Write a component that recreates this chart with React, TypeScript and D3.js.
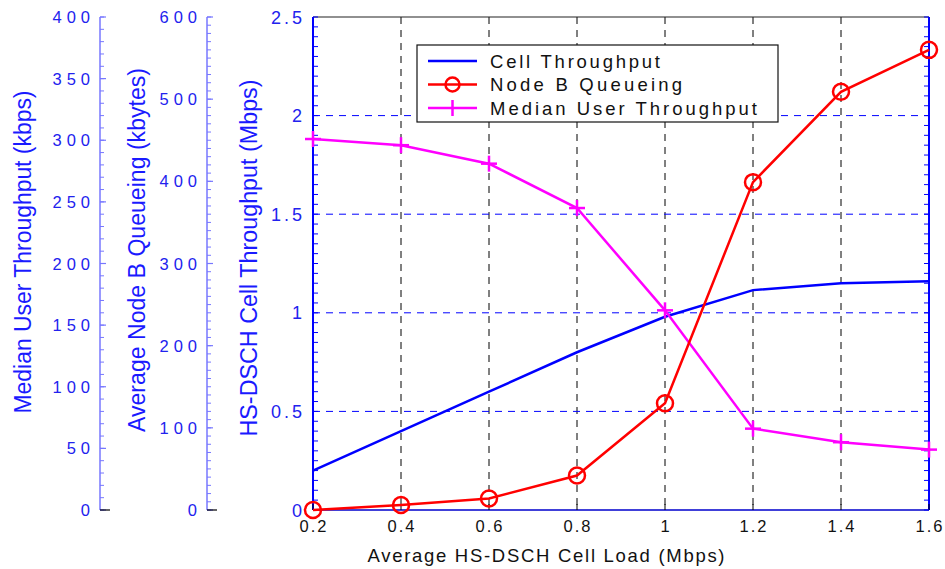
import React from "react";
import * as d3 from "d3";

const loads = [0.2, 0.4, 0.6, 0.8, 1.0, 1.2, 1.4, 1.6];
const cellThroughput = [0.2, 0.4, 0.6, 0.8, 0.98, 1.115, 1.15, 1.16]; // Mbps
const nodeBQueueing = [0, 6, 14, 42, 130, 399, 509, 560]; // kbytes
const medianUserThroughput = [301, 296, 281, 245, 162, 66, 55, 49]; // kbps

const xTicks = [0.2, 0.4, 0.6, 0.8, 1, 1.2, 1.4, 1.6];
const mainTicks = [0, 0.5, 1, 1.5, 2, 2.5];
const queueTicks = [0, 100, 200, 300, 400, 500, 600];
const userTicks = [0, 50, 100, 150, 200, 250, 300, 350, 400];

const legendItems = [
  { name: "Cell Throughput", color: "#0000ff", marker: "none", len: 170 },
  { name: "Node B Queueing", color: "#ff0000", marker: "circle", len: 192 },
  { name: "Median User Throughput", color: "#ff00ff", marker: "plus", len: 267 },
];

const FONT = "Arial, 'Liberation Sans', sans-serif";

export default function App() {
  const left = 313, right = 929, top = 17, bottom = 510;
  const x = d3.scaleLinear().domain([0.2, 1.6]).range([left, right]);
  const yMain = d3.scaleLinear().domain([0, 2.5]).range([bottom, top]);
  const yQueue = d3.scaleLinear().domain([0, 600]).range([bottom, top]);
  const yUser = d3.scaleLinear().domain([0, 400]).range([bottom, top]);

  const cellLine = d3.line<number>().x((_, i) => x(loads[i])).y((d) => yMain(d))(cellThroughput) || "";
  const queueLine = d3.line<number>().x((_, i) => x(loads[i])).y((d) => yQueue(d))(nodeBQueueing) || "";
  const userLine = d3.line<number>().x((_, i) => x(loads[i])).y((d) => yUser(d))(medianUserThroughput) || "";

  const mainMinor = d3.range(0, 2.5001, 0.05);
  const userMinor = d3.range(0, 400.01, 10);
  const queueMinor = d3.range(0, 600.01, 10);

  const tickColor = "#2222ee";
  const axisLight = "#7777ff";

  const sideAxis = (
    ax: number,
    scale: d3.ScaleLinear<number, number>,
    ticks: number[],
    minor: number[],
    labelRight: number
  ) => (
    <g>
      <line x1={ax} x2={ax} y1={top} y2={bottom} stroke={axisLight} strokeWidth={1.5} />
      {minor.map((v, i) => (
        <line key={"m" + i} x1={ax} x2={ax + 4} y1={scale(v)} y2={scale(v)} stroke={axisLight} strokeWidth={1} />
      ))}
      {ticks.map((v, i) => (
        <line key={"t" + i} x1={ax} x2={ax + 6} y1={scale(v)} y2={scale(v)} stroke={axisLight} strokeWidth={1.2} />
      ))}
      <line x1={ax} x2={ax + 10} y1={bottom} y2={bottom} stroke="#000" strokeWidth={1.2} />
      {ticks.map((v, i) => (
        <text
          key={"l" + i}
          x={labelRight + 5}
          y={scale(v) + 6}
          textAnchor="end"
          fontSize={16.5}
          letterSpacing={5}
          fill={tickColor}
          fontFamily={FONT}
        >
          {String(v)}
        </text>
      ))}
    </g>
  );

  return (
    <svg width={945} height={569} style={{ position: "absolute", left: 0, top: 0, background: "#fff" }}>
      <rect x={0} y={0} width={945} height={569} fill="#fff" />

      {/* gridlines */}
      {xTicks.slice(1, -1).map((v, i) => (
        <line key={"gx" + i} x1={x(v)} x2={x(v)} y1={top} y2={bottom} stroke="#000" strokeWidth={1} strokeDasharray="7,6" />
      ))}
      {mainTicks.slice(1, -1).map((v, i) => (
        <line key={"gy" + i} x1={left} x2={right} y1={yMain(v)} y2={yMain(v)} stroke="#0000ff" strokeWidth={1} strokeDasharray="7,6" />
      ))}

      {/* plot frame */}
      <line x1={left} x2={right} y1={top} y2={top} stroke="#222" strokeWidth={1.2} />
      <line x1={left} x2={right} y1={bottom} y2={bottom} stroke="#0000cc" strokeWidth={1.5} />
      <line x1={left} x2={left} y1={top} y2={bottom} stroke="#0000ff" strokeWidth={2} />
      <line x1={right} x2={right} y1={top} y2={bottom} stroke="#0000ff" strokeWidth={2} />
      {xTicks.map((v, i) => (
        <line key={"xtk" + i} x1={x(v)} x2={x(v)} y1={bottom} y2={bottom - 6} stroke="#000" strokeWidth={1} />
      ))}
      {mainMinor.map((v, i) => (
        <g key={"mm" + i}>
          <line x1={left} x2={left + 5} y1={yMain(v)} y2={yMain(v)} stroke="#0000ff" strokeWidth={1} />
          <line x1={right - 5} x2={right} y1={yMain(v)} y2={yMain(v)} stroke="#0000ff" strokeWidth={1} />
        </g>
      ))}

      {/* main y tick labels */}
      {mainTicks.map((v, i) => (
        <text key={"my" + i} x={305} y={yMain(v) + 6.5} textAnchor="end" fontSize={18} letterSpacing={3} fill={tickColor} fontFamily={FONT}>
          {String(v)}
        </text>
      ))}

      {/* x tick labels */}
      {xTicks.map((v, i) => (
        <text key={"xt" + i} x={x(v) + 1} y={532} textAnchor="middle" fontSize={16.5} letterSpacing={2} fill="#111" fontFamily={FONT}>
          {String(v)}
        </text>
      ))}
      <text x={546} y={562} textAnchor="middle" fontSize={18.5} fill="#111" fontFamily={FONT} textLength={357} lengthAdjust="spacing">
        Average HS-DSCH Cell Load (Mbps)
      </text>

      {/* side axes */}
      {sideAxis(100, yUser, userTicks, userMinor, 90)}
      {sideAxis(207, yQueue, queueTicks, queueMinor, 197)}

      {/* axis titles */}
      <text transform="translate(31,252) rotate(-90)" textAnchor="middle" fontSize={23} fill="#1a1aff" fontFamily={FONT} textLength={323} lengthAdjust="spacingAndGlyphs">
        Median User Throughput (kbps)
      </text>
      <text transform="translate(145,250) rotate(-90)" textAnchor="middle" fontSize={23} fill="#1a1aff" fontFamily={FONT} textLength={364} lengthAdjust="spacingAndGlyphs">
        Average Node B Queueing (kbytes)
      </text>
      <text transform="translate(257,258) rotate(-90)" textAnchor="middle" fontSize={23} fill="#1a1aff" fontFamily={FONT} textLength={357} lengthAdjust="spacingAndGlyphs">
        HS-DSCH Cell Throughput (Mbps)
      </text>

      {/* series */}
      <path d={cellLine} fill="none" stroke="#0000ff" strokeWidth={2.5} />
      <path d={userLine} fill="none" stroke="#ff00ff" strokeWidth={2.5} />
      {medianUserThroughput.map((v, i) => (
        <g key={"pu" + i} stroke="#ff00ff" strokeWidth={2.5}>
          <line x1={x(loads[i]) - 8} x2={x(loads[i]) + 8} y1={yUser(v)} y2={yUser(v)} />
          <line x1={x(loads[i])} x2={x(loads[i])} y1={yUser(v) - 8} y2={yUser(v) + 8} />
        </g>
      ))}
      <path d={queueLine} fill="none" stroke="#ff0000" strokeWidth={2.5} />
      {nodeBQueueing.map((v, i) => (
        <circle key={"pq" + i} cx={x(loads[i])} cy={yQueue(v)} r={8} fill="none" stroke="#ff0000" strokeWidth={2.5} />
      ))}

      {/* legend */}
      <rect x={417} y={45} width={361} height={77} fill="#fff" stroke="#111" strokeWidth={1.2} />
      {legendItems.map((it, i) => {
        const ly = 61 + i * 23.5;
        return (
          <g key={"lg" + i}>
            <line x1={428} x2={477} y1={ly} y2={ly} stroke={it.color} strokeWidth={2.5} />
            {it.marker === "circle" && <circle cx={452.5} cy={ly} r={7} fill="none" stroke={it.color} strokeWidth={2.5} />}
            {it.marker === "plus" && <line x1={452.5} x2={452.5} y1={ly - 8} y2={ly + 8} stroke={it.color} strokeWidth={2.5} />}
            <text x={490} y={ly + 6.5} fontSize={18.5} fill="#111" fontFamily={FONT} textLength={it.len} lengthAdjust="spacing">
              {it.name}
            </text>
          </g>
        );
      })}
    </svg>
  );
}
